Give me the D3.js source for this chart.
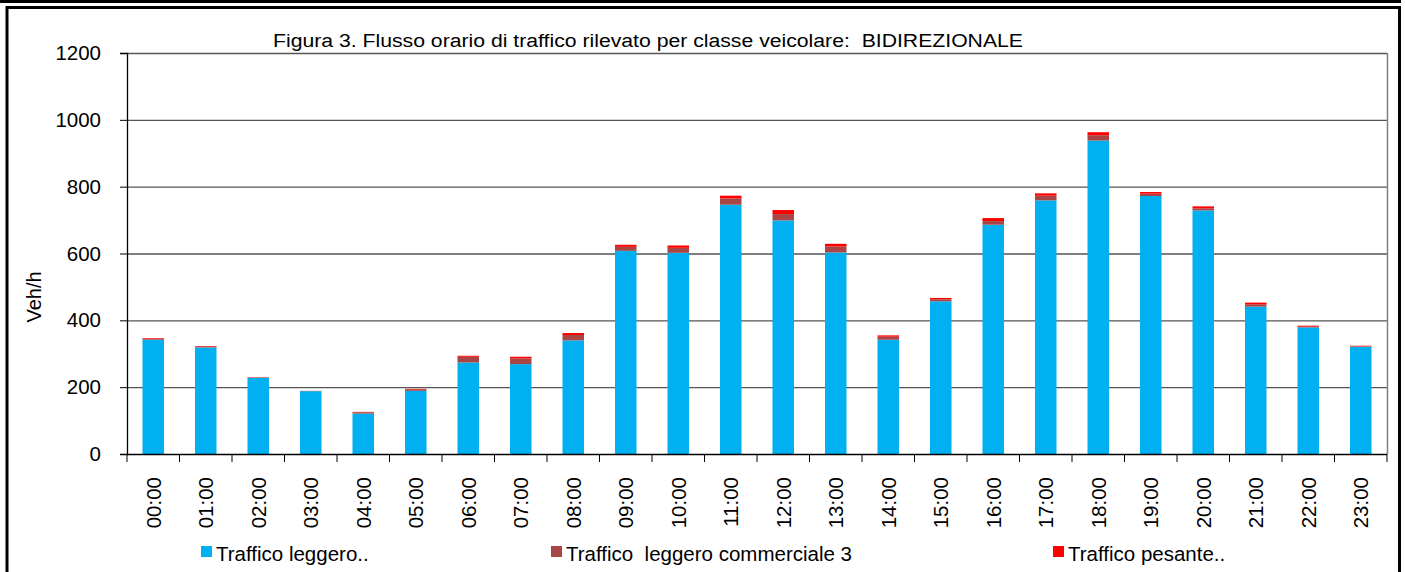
<!DOCTYPE html>
<html><head><meta charset="utf-8">
<script src="https://cdn.jsdelivr.net/npm/d3@7"></script>
<style>body{margin:0;background:#fff}svg{display:block}text{font-family:"Liberation Sans",Arial,sans-serif;fill:#000;white-space:pre}</style>
</head><body>
<svg id="c" width="1405" height="572"></svg>
<script>
const hours = ["00:00","01:00","02:00","03:00","04:00","05:00","06:00","07:00","08:00","09:00","10:00","11:00","12:00","13:00","14:00","15:00","16:00","17:00","18:00","19:00","20:00","21:00","22:00","23:00"];
const leggero = [342,319,228,188,121,189,274,269,340,608,602,746,699,603,342,457,686,759,938,772,729,441,379,321];
const commerciale = [3,2,1,1,4,5,17,17,16,12,15,19,19,18,9,6,11,14,16,7,6,7,2,1];
const pesante = [2,2,1,0,1,1,3,5,6,6,7,8,12,8,4,4,9,7,9,5,6,5,3,2];
const seriesNames = ["Traffico leggero..","Traffico  leggero commerciale 3","Traffico pesante.."];
const seriesColors = ["#00B0F0","#A84646","#FF0000"];
const yTicks = [0,200,400,600,800,1000,1200];
const title = "Figura 3. Flusso orario di traffico rilevato per classe veicolare:  BIDIREZIONALE";
const yLabel = "Veh/h";

const svg = d3.select("#c");
// outer frame
svg.append("rect").attr("x",0).attr("y",0).attr("width",1401).attr("height",3).attr("fill","#000");
svg.append("path").attr("d","M7,580 V7.5 H1399.5 V580").attr("fill","none").attr("stroke","#000").attr("stroke-width",3);

const L=127, R=1387, T=53, B=454;
const x = d3.scaleBand().domain(hours).range([L,R]).paddingInner(0.59).paddingOuter(0.295);
const xb = d3.scaleBand().domain(hours).range([L,R]);
const y = d3.scaleLinear().domain([0,1200]).range([B,T]);

// gridlines
svg.append("g").selectAll("line").data(yTicks.filter(d=>d>0)).join("line")
  .attr("x1",L).attr("x2",R).attr("y1",d=>y(d)+0.5).attr("y2",d=>y(d)+0.5)
  .attr("stroke","#555").attr("stroke-width",1.3);
// right border
svg.append("line").attr("x1",R+0.5).attr("x2",R+0.5).attr("y1",T).attr("y2",B).attr("stroke","#808080").attr("stroke-width",1.5);

const rows = hours.map((h,i)=>({h, a:leggero[i], b:commerciale[i], c:pesante[i]}));
const stack = d3.stack().keys(["a","b","c"])(rows);
svg.append("g").selectAll("g").data(stack).join("g")
  .attr("fill",(d,i)=>seriesColors[i])
  .selectAll("rect").data(d=>d).join("rect")
  .attr("x",d=>x(d.data.h)).attr("width",x.bandwidth())
  .attr("y",d=>y(d[1])).attr("height",d=>y(d[0])-y(d[1]));

// y axis
const ya = svg.append("g").attr("transform",`translate(${L},0)`)
  .call(d3.axisLeft(y).tickValues(yTicks).tickSize(7).tickPadding(19).tickFormat(d3.format("d")));
ya.select(".domain").attr("stroke","#000").attr("stroke-width",1.3);
ya.selectAll(".tick line").attr("stroke","#000");
ya.selectAll("text").style("font-size","20.5px").attr("fill","#000");

// x axis
const xa = svg.append("g").attr("transform",`translate(0,${B})`);
xa.append("line").attr("x1",L).attr("x2",R).attr("y1",0.5).attr("y2",0.5).attr("stroke","#000").attr("stroke-width",1.5);
const bounds = hours.map(h=>xb(h)).concat([R]);
xa.selectAll("line.t").data(bounds).join("line").attr("class","t")
  .attr("x1",d=>d).attr("x2",d=>d).attr("y1",0).attr("y2",8).attr("stroke","#000");
xa.selectAll("text").data(hours).join("text")
  .attr("transform",d=>`translate(${x(d)+x.bandwidth()/2+7.5},23) rotate(-90)`)
  .attr("text-anchor","end").style("font-size","20.5px").text(d=>d);

// title
svg.append("text").attr("x",273).attr("y",47).style("font-size","18px")
  .attr("textLength",750).attr("lengthAdjust","spacingAndGlyphs").text(title);
// y label
svg.append("text").attr("transform","translate(41,297) rotate(-90)").attr("text-anchor","middle").style("font-size","20px").text(yLabel);

// legend
const legX = [201,551,1053];
const lg = svg.append("g");
seriesNames.forEach((n,i)=>{
  lg.append("rect").attr("x",legX[i]).attr("y",546).attr("width",11).attr("height",11).attr("fill",seriesColors[i]);
  lg.append("text").attr("x",legX[i]+15).attr("y",561).style("font-size","20.5px").text(n);
});
</script>
</body></html>
